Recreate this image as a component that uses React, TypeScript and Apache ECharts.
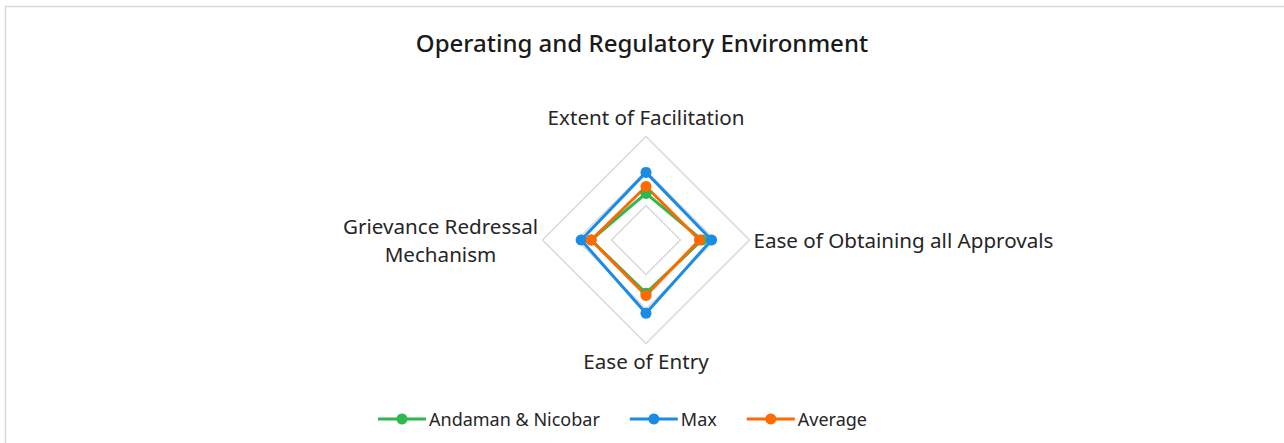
import React, { useEffect, useRef } from "react";
import * as echarts from "echarts";

const indicators = [
  "Extent of Facilitation",
  "Grievance Redressal Mechanism",
  "Ease of Entry",
  "Ease of Obtaining all Approvals",
];
const andamanValues = [1.35, 1.59, 1.54, 1.62];
const maxValues = [1.96, 1.88, 2.12, 1.9];
const averageValues = [1.55, 1.59, 1.61, 1.55];
const seriesNames = ["Andaman & Nicobar", "Max", "Average"];
const colors = ["#2EB84F", "#1A8CE6", "#FF6A00"];

const FONT = "Noto Sans";
const LABEL_COLOR = "#262626";
const legendIcon =
  "path://M0,4 L48,4 L48,7 L0,7 Z M24,0 A5.5,5.5 0 1,1 23.99,0 Z";

export default function App() {
  const ref = useRef<HTMLDivElement>(null);
  useEffect(() => {
    if (!ref.current) return;
    const chart = echarts.init(ref.current, null, { renderer: "svg" });
    const dataSets = [andamanValues, maxValues, averageValues];
    const base = { fontFamily: FONT, fontSize: 20.6, color: LABEL_COLOR };
    chart.setOption({
      animation: false,
      backgroundColor: "#fff",
      title: {
        text: "Operating and Regulatory Environment",
        left: "center",
        top: 25,
        textStyle: { fontFamily: FONT, fontSize: 24, fontWeight: 500, color: "#1a1a1a" },
      },
      legend: {
        data: seriesNames,
        bottom: 10,
        left: 373,
        itemWidth: 48,
        itemHeight: 11,
        itemGap: 30,
        symbolKeepAspect: false,
        icon: legendIcon,
        textStyle: { fontFamily: FONT, fontSize: 18, color: LABEL_COLOR, padding: [0, 0, 0, -2] },
      },
      radar: {
        center: [646, 240],
        radius: 103.5,
        startAngle: 90,
        min: 0,
        max: 3,
        splitNumber: 3,
        shape: "polygon",
        nameGap: 4,
        axisName: {
          ...base,
          formatter: (name: string) => {
            if (name === "Grievance Redressal Mechanism")
              return "{c|Grievance Redressal}\n{c|Mechanism}";
            if (name === "Extent of Facilitation") return "{t|" + name + "}";
            if (name === "Ease of Entry") return "{b|" + name + "}";
            return name;
          },
          rich: {
            c: { ...base, width: 196, align: "center", lineHeight: 28 },
            t: { ...base, padding: [0, 0, 5, 0] },
            b: { ...base, padding: [3, 0, 0, 0] },
          },
        },
        indicator: indicators.map((n) => ({ name: n, min: 0, max: 3 })),
        splitLine: { lineStyle: { color: "#D9D9D9", width: 1.5 } },
        splitArea: { show: false },
        axisLine: { show: false },
        axisTick: { show: false },
        axisLabel: { show: false },
      },
      series: [
        {
          type: "radar",
          symbol: "circle",
          symbolSize: 11,
          data: dataSets.map((vals, i) => ({
            name: seriesNames[i],
            value: vals,
            lineStyle: { color: colors[i], width: 3 },
            itemStyle: { color: colors[i] },
          })),
        },
      ],
      graphic: [
        {
          type: "rect",
          shape: { x: 5.5, y: 6.5, width: 1290, height: 450 },
          style: { fill: "none", stroke: "#D9D9D9", lineWidth: 1.5 },
          silent: true,
        },
      ],
    });
    return () => chart.dispose();
  }, []);
  return (
    <div
      ref={ref}
      style={{ position: "fixed", left: 0, top: 0, width: 1284, height: 443 }}
    />
  );
}
